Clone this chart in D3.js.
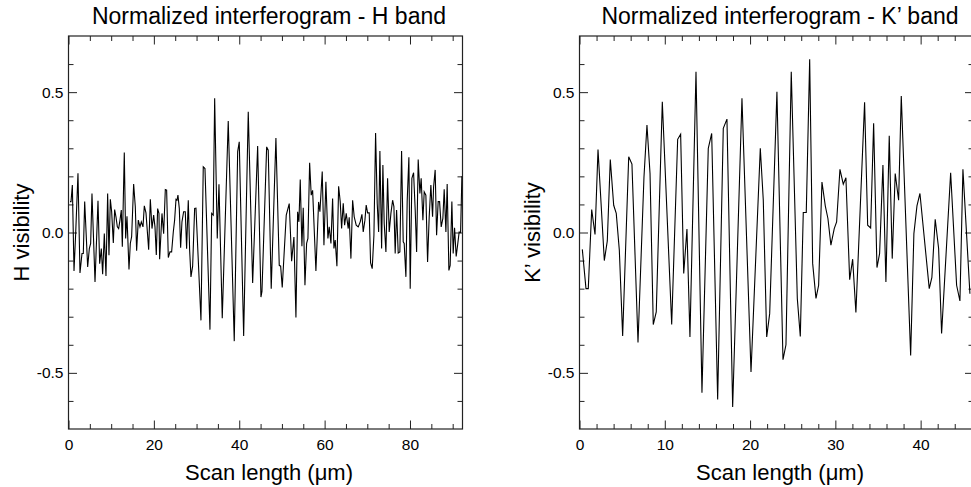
<!DOCTYPE html>
<html><head><meta charset="utf-8">
<script src="https://cdn.jsdelivr.net/npm/d3@7"></script>
<style>html,body{margin:0;padding:0;background:#fff;} svg{display:block;font-family:"Liberation Sans",Arial,Helvetica,sans-serif;}</style>
</head><body>
<svg id="c" width="971" height="487"></svg>
<script>
// ---- H band interferogram (scan length in µm, visibility) ----
const hX = [0.35,0.59,0.90,1.29,1.68,2.22,2.69,3.16,3.47,3.79,4.49,4.88,5.19,5.50,6.21,6.91,7.30,7.69,8.00,8.39,8.78,9.17,9.48,9.80,10.11,10.50,10.81,11.12,11.44,11.75,12.06,12.37,12.61,13.07,13.39,13.70,14.17,14.48,14.79,15.26,15.65,15.96,16.35,16.74,17.06,17.45,17.76,18.15,18.78,19.17,19.56,19.95,20.26,20.57,20.88,21.19,21.35,21.66,21.90,22.29,22.68,22.99,23.38,23.77,24.16,24.55,24.86,25.18,25.41,25.64,25.96,26.27,26.58,26.97,27.36,27.67,28.06,28.38,28.69,29.08,29.55,29.86,31.03,31.57,31.97,33.14,33.54,33.91,34.24,34.85,35.25,36.02,37.42,38.83,39.63,40.00,41.03,42.11,43.14,44.31,45.08,45.32,46.42,46.79,47.49,48.59,49.37,49.70,50.07,51.01,51.71,52.27,52.81,53.28,53.68,53.98,54.29,54.68,54.99,55.39,55.78,56.09,56.49,56.86,57.19,57.96,58.59,58.90,59.44,59.84,60.30,60.77,61.08,61.48,61.87,62.18,62.48,62.88,63.28,63.65,63.98,64.36,64.68,65.06,65.53,65.76,66.16,66.56,66.93,67.40,67.87,68.34,68.74,69.04,69.44,69.74,70.07,70.45,70.77,71.15,71.55,71.94,72.32,72.65,72.95,73.35,73.65,73.96,74.36,74.75,75.13,75.53,75.93,76.23,76.53,76.86,77.24,77.63,78.03,78.41,78.64,79.04,79.34,79.74,80.05,80.44,80.84,81.22,81.55,81.92,82.32,82.62,83.02,83.33,83.72,84.12,84.50,84.89,85.29,85.53,85.90,86.23,86.60,86.93,87.31,87.70,88.01,88.41,88.71,89.11,89.41,89.81,90.12,90.44,90.82,91.15,91.52,91.85,92.16];
const hY = [0.11,0.11,0.169,-0.137,-0.004,0.211,-0.144,-0.075,-0.075,0.11,-0.123,-0.057,-0.039,0.139,-0.176,0.113,-0.111,-0.057,-0.149,-0.004,-0.155,0.139,-0.081,0.118,0.074,-0.037,0.082,0.056,0.02,0.014,0.044,0.08,-0.051,0.285,-0.021,0.058,-0.132,-0.039,-0.015,0.173,0.092,-0.065,0.044,0.02,0.038,0.02,0.095,0.07,-0.061,0.118,0.014,0.062,0.02,-0.08,0.085,0.068,-0.095,-0.004,0.068,-0.004,0.153,0.151,-0.089,-0.069,-0.069,0.002,0.044,0.118,0.115,0.133,0.085,-0.054,0.038,0.074,0.074,-0.058,0.115,-0.063,-0.158,-0.12,0.086,0.087,-0.313,0.234,0.228,-0.346,0.068,0.062,0.478,-0.021,0.172,-0.305,0.397,-0.387,0.288,0.323,-0.369,0.43,-0.18,0.308,-0.23,-0.21,0.305,0.293,-0.20,0.337,-0.117,-0.12,-0.196,0.062,0.103,-0.102,-0.016,-0.303,0.074,0.038,0.189,-0.049,0.088,-0.188,-0.039,-0.021,0.248,0.133,0.15,-0.137,0.109,0.074,0.217,-0.045,0.181,-0.021,0.02,-0.039,0.121,-0.057,-0.027,-0.12,0.165,0.11,0.014,0.104,0.026,0.068,0.014,0.054,-0.093,0.115,0.056,0.026,0.02,0.038,0.065,0.002,0.044,0.098,0.07,0.07,-0.108,-0.129,-0.01,0.354,0.104,0.002,0.29,-0.057,0.24,0.032,-0.069,0.193,0.002,0.068,0.115,0.092,-0.075,0.08,-0.073,-0.069,0.29,-0.033,-0.039,-0.158,0.11,0.268,-0.2,0.193,0.213,0.08,-0.069,0.26,0.139,0.193,0.044,0.145,0.133,-0.105,0.056,0.169,0.056,0.163,0.223,-0.01,0.11,0.11,0.02,0.05,0.154,0.002,0.173,-0.135,-0.117,0.11,-0.075,0.017,-0.085,-0.045,0.002,0.0,0.2];

// ---- K' band interferogram ----
const kX = [0.33,0.76,1.03,1.43,1.82,2.17,2.91,3.26,3.61,4.01,4.31,4.67,5.06,5.77,6.15,6.86,7.56,7.91,8.27,8.65,9.00,9.71,10.81,11.51,11.86,12.22,12.60,12.95,13.66,14.36,15.10,15.50,16.20,16.86,17.29,17.96,19.05,20.11,21.20,21.55,21.95,22.30,23.15,23.86,24.21,24.83,25.54,25.89,26.24,26.59,26.99,27.34,27.73,28.04,28.43,28.82,29.13,29.48,29.87,30.15,30.54,30.93,31.24,31.68,32.03,32.41,33.43,33.79,34.14,34.49,34.88,35.19,35.58,35.93,36.32,36.67,37.02,37.42,37.73,38.83,39.21,39.57,39.92,41.01,41.32,41.71,42.11,42.46,43.52,44.22,44.61,44.96,45.78];
const kY = [-0.06,-0.20,-0.20,0.082,-0.007,0.296,-0.10,-0.03,0.26,0.097,0.068,-0.063,-0.369,0.27,0.244,-0.392,0.198,0.383,0.21,-0.328,-0.283,0.466,-0.328,0.332,0.35,-0.146,0.012,-0.372,0.573,-0.571,0.30,0.353,-0.595,0.371,0.404,-0.622,0.478,-0.497,0.30,0.115,-0.372,-0.289,0.501,-0.453,-0.40,0.573,-0.235,-0.37,0.071,0.071,0.617,-0.11,-0.235,-0.188,0.18,0.095,0.05,-0.045,0.014,0.038,0.225,0.172,0.195,-0.168,-0.095,-0.285,0.464,0.026,0.016,0.389,-0.125,-0.075,0.24,-0.176,0.345,-0.093,0.21,0.115,0.486,-0.438,-0.004,0.095,0.139,-0.20,-0.16,0.047,-0.057,-0.36,0.213,-0.188,-0.244,0.225,-0.218];

// ---- texts and ticks ----
const titles = ["Normalized interferogram - H band", "Normalized interferogram - K\u2019 band"];
const yLabels = ["H visibility", "K\u2019 visibility"];
const xLabel = "Scan length (\u03bcm)";
const yMajor = [-0.5, 0.0, 0.5];
const yMajorLabels = ["-0.5", "0.0", "0.5"];
const yMinor = [-0.6,-0.4,-0.3,-0.2,-0.1,0.1,0.2,0.3,0.4,0.6];
const hMajor = [0,20,40,60,80];
const hMinor = [5,10,15,25,30,35,45,50,55,65,70,75,85,90];
const kMajor = [0,10,20,30,40];
const kMinor = [2,4,6,8,12,14,16,18,22,24,26,28,32,34,36,38,42,44,46];

const svg = d3.select("#c");
const plotTop = 36, plotBottom = 429, W = 394;
const yScale = d3.scaleLinear().domain([-0.7, 0.7]).range([plotBottom, plotTop]);

function panel(i, left, xmax, xs, ys, major, minor) {
  const x = d3.scaleLinear().domain([0, xmax]).range([left, left + W]);
  const y = yScale;
  const g = svg.append("g");
  const clipId = "clip" + i;
  svg.append("clipPath").attr("id", clipId).append("rect")
    .attr("x", left).attr("y", plotTop).attr("width", W).attr("height", plotBottom - plotTop);

  const fmtY = (d) => yMajorLabels[yMajor.indexOf(d)];
  // bottom
  g.append("g").attr("transform", `translate(0,${plotBottom})`)
    .call(d3.axisBottom(x).tickValues(major).tickSize(-8.5).tickPadding(9.5).tickFormat(d3.format("d")));
  g.append("g").attr("transform", `translate(0,${plotBottom})`)
    .call(d3.axisBottom(x).tickValues(minor).tickSize(-5).tickFormat(""));
  // top
  g.append("g").attr("transform", `translate(0,${plotTop})`)
    .call(d3.axisTop(x).tickValues(major).tickSize(-8.5).tickFormat(""));
  g.append("g").attr("transform", `translate(0,${plotTop})`)
    .call(d3.axisTop(x).tickValues(minor).tickSize(-5).tickFormat(""));
  // left
  g.append("g").attr("transform", `translate(${left},0)`)
    .call(d3.axisLeft(y).tickValues(yMajor).tickSize(-8.5).tickPadding(5).tickFormat(fmtY));
  g.append("g").attr("transform", `translate(${left},0)`)
    .call(d3.axisLeft(y).tickValues(yMinor).tickSize(-5).tickFormat(""));
  // right
  g.append("g").attr("transform", `translate(${left + W},0)`)
    .call(d3.axisRight(y).tickValues(yMajor).tickSize(-8.5).tickFormat(""));
  g.append("g").attr("transform", `translate(${left + W},0)`)
    .call(d3.axisRight(y).tickValues(yMinor).tickSize(-5).tickFormat(""));

  g.selectAll(".domain").remove();
  g.selectAll(".tick line").attr("stroke", "#222").attr("stroke-width", 1);
  g.selectAll(".tick text").attr("font-size", "15.5px").attr("fill", "#000")
    .attr("font-family", "'Liberation Sans', Arial, sans-serif");

  // frame
  g.append("rect").attr("x", left).attr("y", plotTop).attr("width", W).attr("height", plotBottom - plotTop)
    .attr("fill", "none").attr("stroke", "#222").attr("stroke-width", 1.2);

  // data line
  const pts = xs.map((v, j) => [v, ys[j]]);
  g.append("path").datum(pts).attr("clip-path", `url(#${clipId})`)
    .attr("fill", "none").attr("stroke", "#000").attr("stroke-width", 1.1)
    .attr("d", d3.line().x(d => x(d[0])).y(d => y(d[1])));

  const cx = left + W / 2 + 3.5;
  g.append("text").attr("x", cx).attr("y", 24).attr("text-anchor", "middle")
    .attr("font-size", "23px").attr("fill", "#000").text(titles[i]);
  g.append("text").attr("x", cx).attr("y", 479.5).attr("text-anchor", "middle")
    .attr("font-size", "22px").attr("fill", "#000").text(xLabel);
  g.append("text").attr("transform", `translate(${left - 39.5},${(plotTop + plotBottom) / 2}) rotate(-90)`)
    .attr("text-anchor", "middle").attr("font-size", "22px").attr("fill", "#000").text(yLabels[i]);
}

panel(0, 68.5, 92.3, hX, hY, hMajor, hMinor);
panel(1, 579.5, 46.2, kX, kY, kMajor, kMinor);
</script>
</body></html>
